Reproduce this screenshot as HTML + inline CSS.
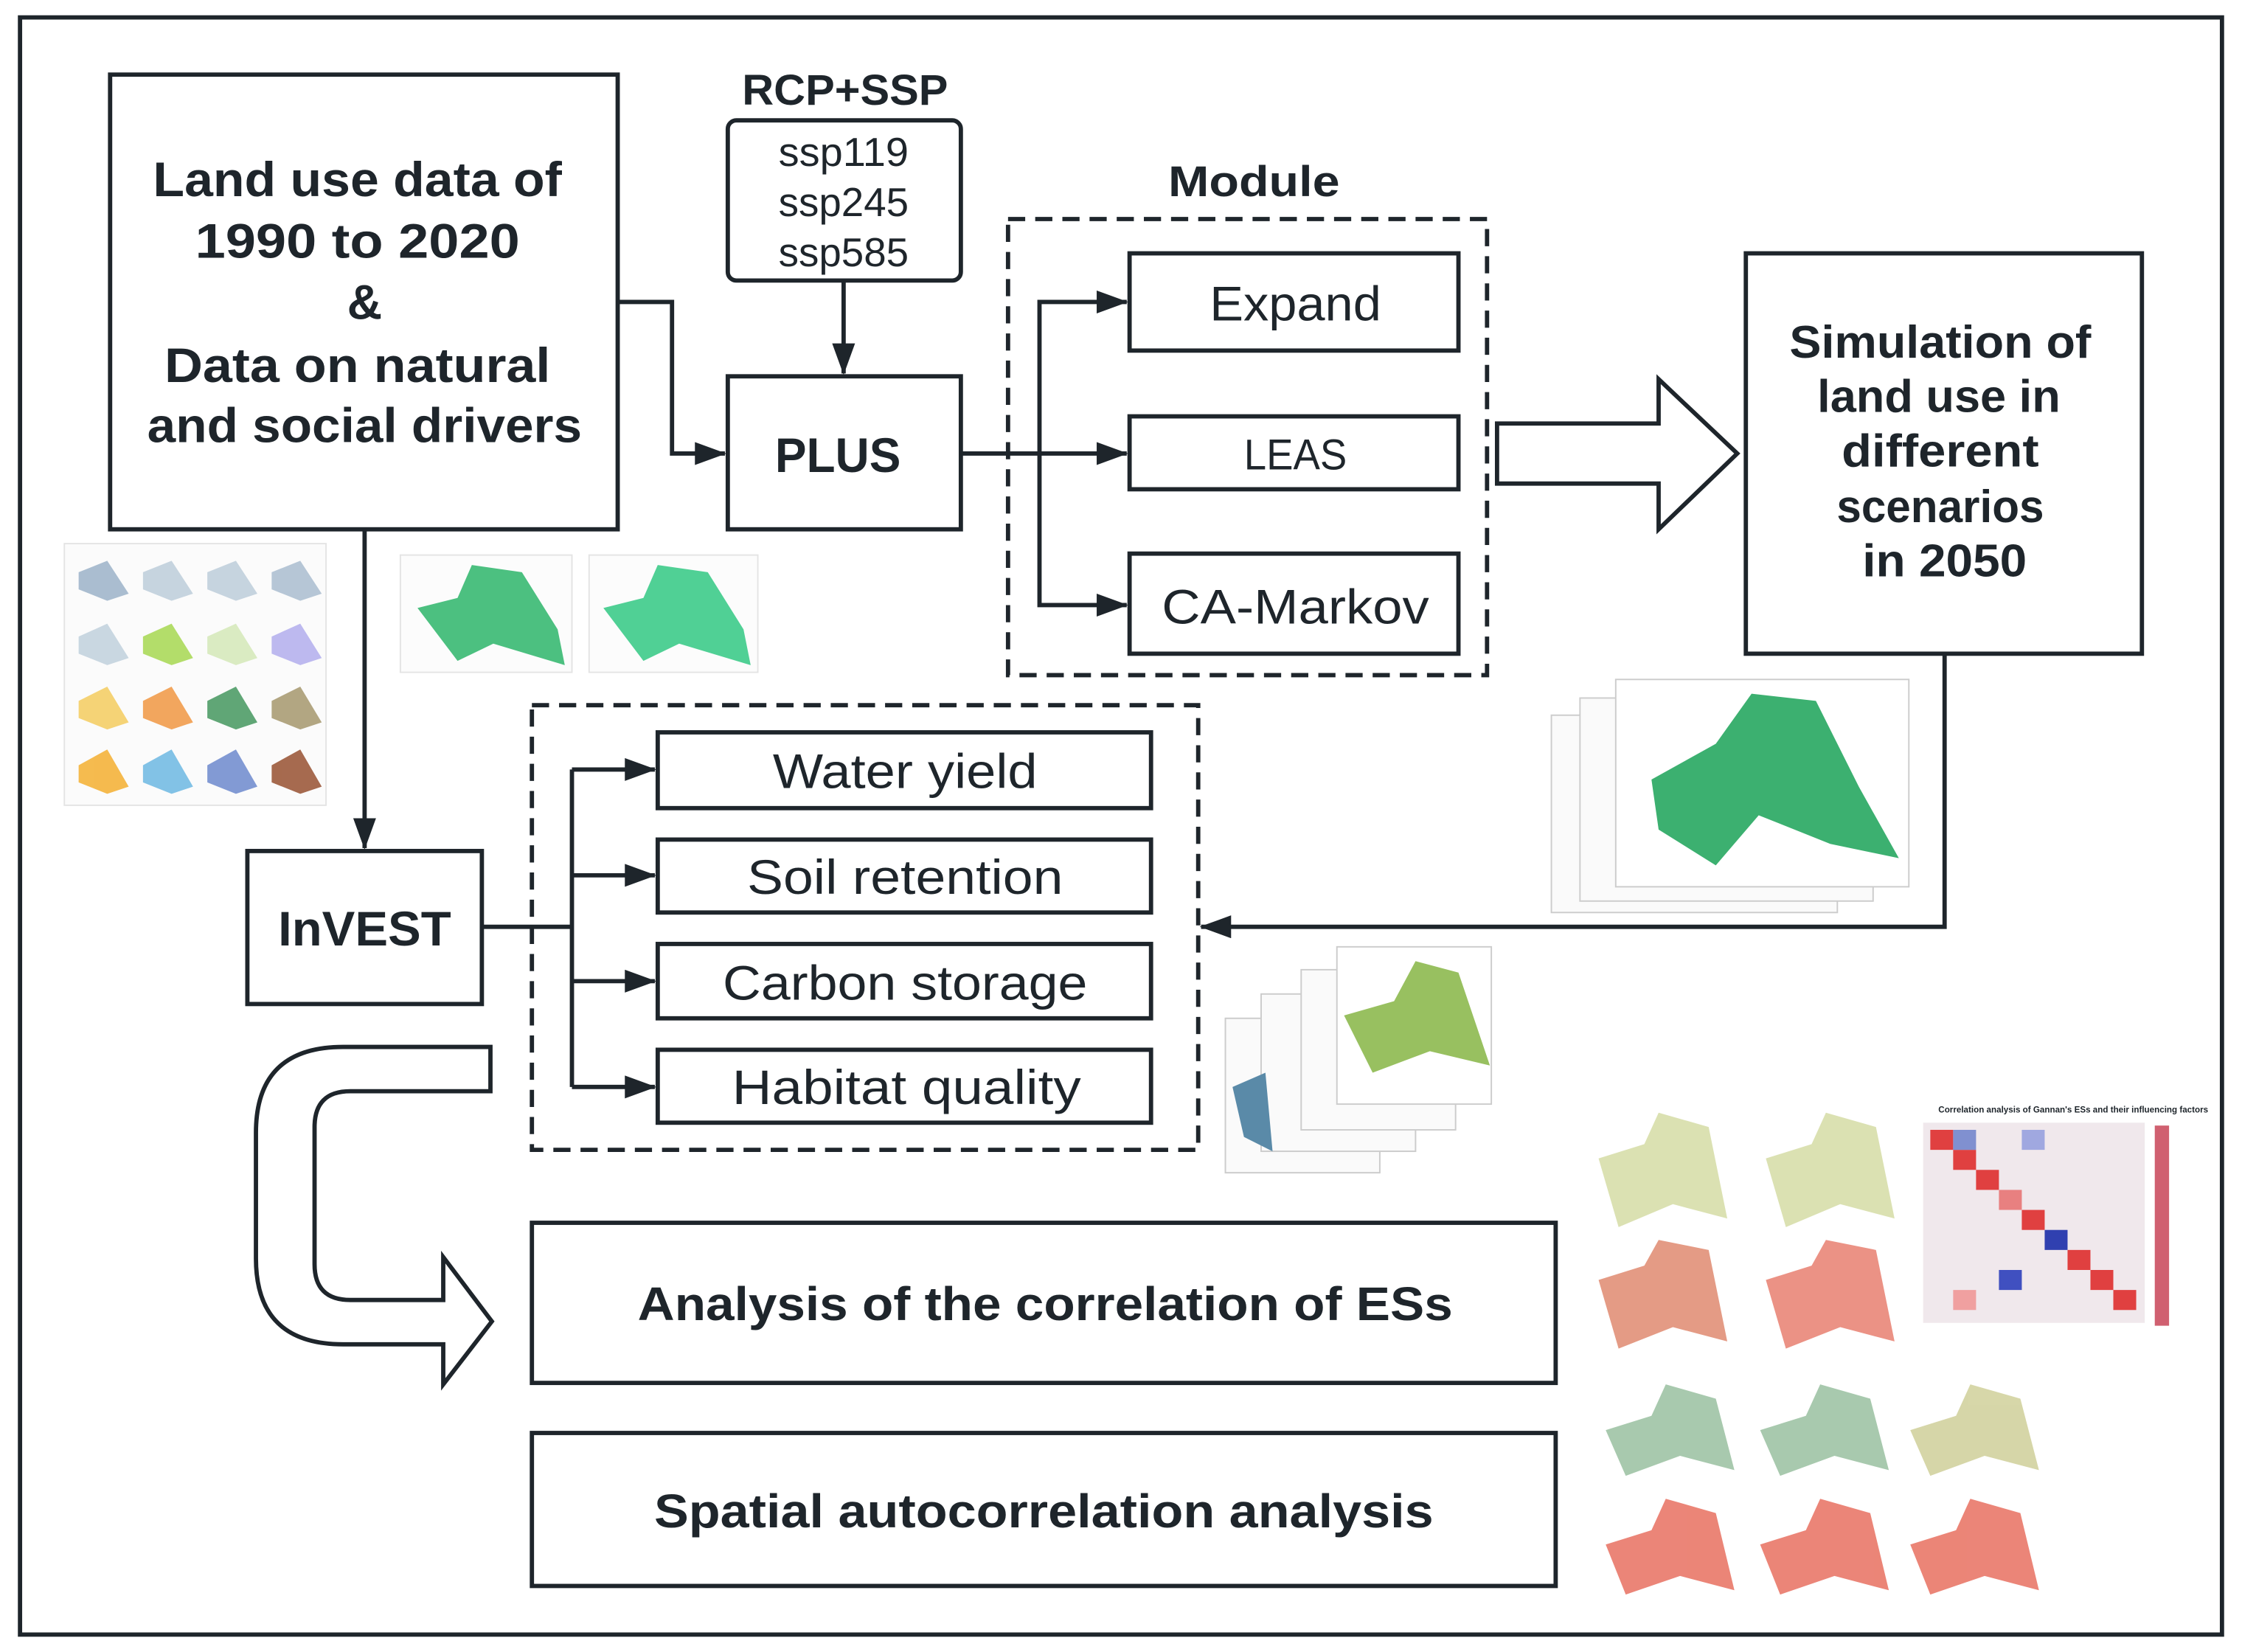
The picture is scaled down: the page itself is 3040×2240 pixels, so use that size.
<!DOCTYPE html>
<html><head><meta charset="utf-8"><style>
html,body{margin:0;padding:0;background:#fff}
svg{display:block}
text{font-family:"Liberation Sans","DejaVu Sans",sans-serif;fill:#1e252b}
.b{font-weight:bold}
</style></head><body>
<svg width="3040" height="2240" viewBox="0 0 1568 1155" xmlns="http://www.w3.org/2000/svg">
<defs>
<marker id="ah2" markerWidth="22" markerHeight="16" refX="21" refY="8" orient="auto" markerUnits="userSpaceOnUse" viewBox="0 0 22 16">
<path d="M0,0 L22,8 L0,16 z" fill="#1e252b"/></marker>
</defs>
<g fill="none" stroke="#1e252b" stroke-width="3">
<rect x="14" y="12" width="1540" height="1131"/>
<rect x="77" y="52" width="355" height="318"/>
<rect x="509" y="84" width="163" height="112" rx="6"/>
<rect x="509" y="263" width="163" height="107"/>
<rect x="705" y="153" width="335" height="319" stroke-dasharray="12,7"/>
<rect x="790" y="177" width="230" height="68"/>
<rect x="790" y="291" width="230" height="51"/>
<rect x="790" y="387" width="230" height="70"/>
<rect x="1221" y="177" width="277" height="280"/>
<rect x="173" y="595" width="164" height="107"/>
<rect x="372" y="493" width="466" height="311" stroke-dasharray="12,7"/>
<rect x="460" y="512" width="345" height="53"/>
<rect x="460" y="587" width="345" height="51"/>
<rect x="460" y="660" width="345" height="52"/>
<rect x="460" y="734" width="345" height="51"/>
<rect x="372" y="855" width="716" height="112"/>
<rect x="372" y="1002" width="716" height="107"/>
<path d="M1047,296 L1160,296 L1160,265 L1215,317 L1160,370 L1160,338 L1047,338 Z"/>
<path d="M343,732 L240,732 Q179,732 179,792 L179,880 Q179,940 240,940 L310,940 L310,968 L344,924 L310,879 L310,909 L245,909 Q220,909 220,884 L220,788 Q220,763 245,763 L343,763 Z"/>
</g>
<g fill="none" stroke="#1e252b" stroke-width="3">
<path d="M432,211 L470,211 L470,317 L507,317" marker-end="url(#ah2)"/>
<path d="M590,196 L590,261" marker-end="url(#ah2)"/>
<path d="M672,317 L788,317" marker-end="url(#ah2)"/>
<path d="M727,317 L727,211 L788,211" marker-end="url(#ah2)"/>
<path d="M727,317 L727,423 L788,423" marker-end="url(#ah2)"/>
<path d="M1360,457 L1360,648 L840,648" marker-end="url(#ah2)"/>
<path d="M255,370 L255,593" marker-end="url(#ah2)"/>
<path d="M337,648 L400,648"/>
<path d="M400,538 L400,760"/>
<path d="M400,538 L458,538" marker-end="url(#ah2)"/>
<path d="M400,612 L458,612" marker-end="url(#ah2)"/>
<path d="M400,686 L458,686" marker-end="url(#ah2)"/>
<path d="M400,760 L458,760" marker-end="url(#ah2)"/>
</g>
<g text-anchor="middle" lengthAdjust="spacingAndGlyphs">
<text class="b" x="250" y="137" font-size="34" textLength="286" lengthAdjust="spacingAndGlyphs">Land use data of</text>
<text class="b" x="250" y="180" font-size="34" textLength="227" lengthAdjust="spacingAndGlyphs">1990 to 2020</text>
<text class="b" x="255" y="223" font-size="34">&amp;</text>
<text class="b" x="250" y="267" font-size="34" textLength="270" lengthAdjust="spacingAndGlyphs">Data on natural</text>
<text class="b" x="255" y="309" font-size="34" textLength="304" lengthAdjust="spacingAndGlyphs">and social drivers</text>
<text class="b" x="591" y="73" font-size="30" textLength="144" lengthAdjust="spacingAndGlyphs">RCP+SSP</text>
<text x="590" y="116" font-size="28" textLength="91" lengthAdjust="spacingAndGlyphs">ssp119</text>
<text x="590" y="151" font-size="28" textLength="91" lengthAdjust="spacingAndGlyphs">ssp245</text>
<text x="590" y="186" font-size="28" textLength="91" lengthAdjust="spacingAndGlyphs">ssp585</text>
<text class="b" x="586" y="330" font-size="34" textLength="88" lengthAdjust="spacingAndGlyphs">PLUS</text>
<text class="b" x="877" y="137" font-size="30" textLength="120" lengthAdjust="spacingAndGlyphs">Module</text>
<text x="906" y="224" font-size="34" textLength="120" lengthAdjust="spacingAndGlyphs">Expand</text>
<text x="906" y="328" font-size="30" textLength="72" lengthAdjust="spacingAndGlyphs">LEAS</text>
<text x="906" y="436" font-size="34" textLength="187" lengthAdjust="spacingAndGlyphs">CA-Markov</text>
<text class="b" x="1357" y="250" font-size="32" textLength="211" lengthAdjust="spacingAndGlyphs">Simulation of</text>
<text class="b" x="1356" y="288" font-size="32" textLength="170" lengthAdjust="spacingAndGlyphs">land use in</text>
<text class="b" x="1357" y="326" font-size="32" textLength="138" lengthAdjust="spacingAndGlyphs">different</text>
<text class="b" x="1357" y="365" font-size="32" textLength="145" lengthAdjust="spacingAndGlyphs">scenarios</text>
<text class="b" x="1360" y="403" font-size="32" textLength="115" lengthAdjust="spacingAndGlyphs">in 2050</text>
<text class="b" x="255" y="661" font-size="34" textLength="121" lengthAdjust="spacingAndGlyphs">InVEST</text>
<text x="633" y="551" font-size="34" textLength="185" lengthAdjust="spacingAndGlyphs">Water yield</text>
<text x="633" y="625" font-size="34" textLength="221" lengthAdjust="spacingAndGlyphs">Soil retention</text>
<text x="633" y="699" font-size="34" textLength="255" lengthAdjust="spacingAndGlyphs">Carbon storage</text>
<text x="634" y="772" font-size="34" textLength="244" lengthAdjust="spacingAndGlyphs">Habitat quality</text>
<text class="b" x="731" y="923" font-size="33" textLength="570" lengthAdjust="spacingAndGlyphs">Analysis of the correlation of ESs</text>
<text class="b" x="730" y="1068" font-size="33" textLength="545" lengthAdjust="spacingAndGlyphs">Spatial autocorrelation analysis</text>
</g>
<!-- left drivers grid -->
<rect x="45" y="380" width="183" height="183" fill="#fbfbfb" stroke="#e4e4e4"/>
<g opacity="0.75">
<path d="M55,400 L75,392 L90,415 L75,420 L55,412Z" fill="#8fa9c2"/><path d="M100,400 L120,392 L135,415 L120,420 L100,412Z" fill="#b5c7d6"/><path d="M145,400 L165,392 L180,415 L165,420 L145,412Z" fill="#b5c7d6"/><path d="M190,400 L210,392 L225,415 L210,420 L190,412Z" fill="#9fb5ca"/>
<path d="M55,445 L75,436 L90,460 L75,465 L55,457Z" fill="#b9cbd9"/><path d="M100,445 L120,436 L135,460 L120,465 L100,457Z" fill="#9bd43a"/><path d="M145,445 L165,436 L180,460 L165,465 L145,457Z" fill="#cfe6b0"/><path d="M190,445 L210,436 L225,460 L210,465 L190,457Z" fill="#a9a4ec"/>
<path d="M55,490 L75,480 L90,505 L75,510 L55,502Z" fill="#f4c64a"/><path d="M100,490 L120,480 L135,505 L120,510 L100,502Z" fill="#f08a2a"/><path d="M145,490 L165,480 L180,505 L165,510 L145,502Z" fill="#2d8a4a"/><path d="M190,490 L210,480 L225,505 L210,510 L190,502Z" fill="#9a8a5a"/>
<path d="M55,535 L75,524 L90,550 L75,555 L55,547Z" fill="#f3a515"/><path d="M100,535 L120,524 L135,550 L120,555 L100,547Z" fill="#5ab0e0"/><path d="M145,535 L165,524 L180,550 L165,555 L145,547Z" fill="#5a7ac8"/><path d="M190,535 L210,524 L225,550 L210,555 L190,547Z" fill="#8a3a15"/>
</g>
<!-- two land maps -->
<rect x="280" y="388" width="120" height="82" fill="#fcfcfc" stroke="#e4e4e4"/>
<path d="M292,425 L320,418 L330,395 L365,400 L390,440 L395,465 L345,450 L320,462 Z" fill="#4cc080"/>
<rect x="412" y="388" width="118" height="82" fill="#fcfcfc" stroke="#e4e4e4"/>
<path d="M422,425 L450,418 L460,395 L495,400 L520,440 L525,465 L475,450 L450,462 Z" fill="#50d095"/>
<!-- sim stack -->
<rect x="1085" y="500" width="200" height="138" fill="#fafafa" stroke="#ccc"/>
<rect x="1105" y="488" width="205" height="142" fill="#fafafa" stroke="#ccc"/>
<rect x="1130" y="475" width="205" height="145" fill="#fff" stroke="#ccc"/>
<path d="M1155,545 L1200,520 L1225,485 L1270,490 L1300,550 L1328,600 L1280,590 L1230,570 L1200,605 L1160,580 Z" fill="#3cb070"/>
<!-- ES stack -->
<rect x="857" y="712" width="108" height="108" fill="#fafafa" stroke="#ccc"/>
<rect x="882" y="695" width="108" height="110" fill="#fafafa" stroke="#ccc"/>
<rect x="910" y="678" width="108" height="112" fill="#fafafa" stroke="#ccc"/>
<rect x="935" y="662" width="108" height="110" fill="#fff" stroke="#ccc"/>
<path d="M940,710 L975,700 L990,672 L1020,680 L1042,745 L1000,735 L960,750 Z" fill="#98c060"/>
<path d="M862,760 L885,750 L890,805 L870,795 Z" fill="#5a8aa8"/>
<!-- bottom right -->
<g opacity="0.85">
<path d="M1118,810 L1150,800 L1160,778 L1195,788 L1208,852 L1170,842 L1132,858 Z" fill="#d5dca5"/>
<path d="M1235,810 L1267,800 L1277,778 L1312,788 L1325,852 L1287,842 L1249,858 Z" fill="#d5dca5"/>
<path d="M1118,895 L1150,885 L1160,867 L1195,874 L1208,938 L1170,928 L1132,943 Z" fill="#e08a70"/>
<path d="M1235,895 L1267,885 L1277,867 L1312,874 L1325,938 L1287,928 L1249,943 Z" fill="#e88070"/>
<path d="M1123,1000 L1155,990 L1165,968 L1200,978 L1213,1028 L1175,1018 L1137,1032 Z" fill="#9ac0a0"/>
<path d="M1231,1000 L1263,990 L1273,968 L1308,978 L1321,1028 L1283,1018 L1245,1032 Z" fill="#9ac0a0"/>
<path d="M1336,1000 L1368,990 L1378,968 L1413,978 L1426,1028 L1388,1018 L1350,1032 Z" fill="#d0d09a"/>
<path d="M1123,1080 L1155,1070 L1165,1048 L1200,1058 L1213,1112 L1175,1102 L1137,1115 Z" fill="#e87060"/>
<path d="M1231,1080 L1263,1070 L1273,1048 L1308,1058 L1321,1112 L1283,1102 L1245,1115 Z" fill="#e87060"/>
<path d="M1336,1080 L1368,1070 L1378,1048 L1413,1058 L1426,1112 L1388,1102 L1350,1115 Z" fill="#e87060"/>
</g>
<g>
<rect x="1345" y="785" width="155" height="140" fill="#f0e8ec"/>
<rect x="1350" y="790" width="16" height="14" fill="#e04040"/><rect x="1366" y="804" width="16" height="14" fill="#e04040"/><rect x="1382" y="818" width="16" height="14" fill="#e04040"/><rect x="1398" y="832" width="16" height="14" fill="#e88080"/><rect x="1414" y="846" width="16" height="14" fill="#e04040"/><rect x="1430" y="860" width="16" height="14" fill="#3040b0"/><rect x="1446" y="874" width="16" height="14" fill="#e04040"/><rect x="1462" y="888" width="16" height="14" fill="#e04040"/><rect x="1478" y="902" width="16" height="14" fill="#e04040"/>
<rect x="1398" y="888" width="16" height="14" fill="#4050c0"/><rect x="1366" y="790" width="16" height="14" fill="#8090d0"/><rect x="1414" y="790" width="16" height="14" fill="#a0a8e0"/><rect x="1366" y="902" width="16" height="14" fill="#f0a0a0"/>
<rect x="1507" y="787" width="10" height="140" fill="#d06070"/>
<text x="1450" y="778" font-size="6" text-anchor="middle" class="b">Correlation analysis of Gannan's ESs and their influencing factors</text>
</g>
</svg>
</body></html>
